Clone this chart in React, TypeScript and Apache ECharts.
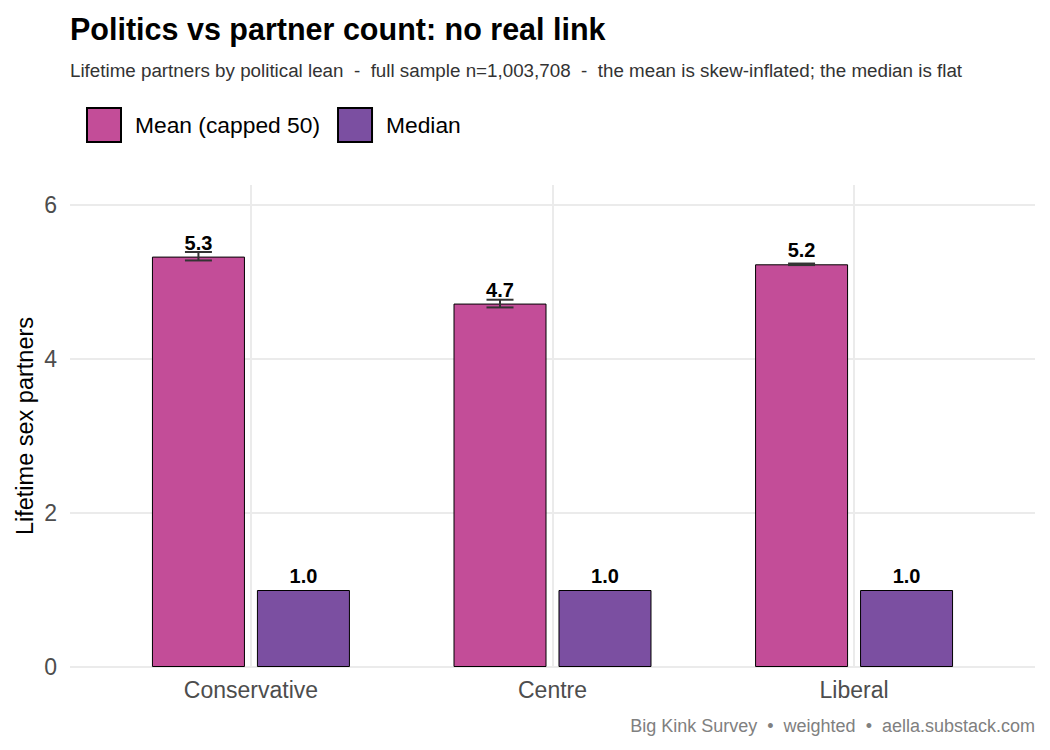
import React, { useEffect, useRef } from "react";
import * as echarts from "echarts";

// Political lean groups and lifetime partner summaries
const categories = ["Conservative", "Centre", "Liberal"];
const meanValues = [5.33, 4.72, 5.23];
const meanLow = [5.28, 4.67, 5.22];
const meanHigh = [5.39, 4.77, 5.24];
const medianValues = [1.0, 1.0, 1.0];
const yTicks = [0, 2, 4, 6];

const seriesNames = ["Mean (capped 50)", "Median"];
const titleText = "Politics vs partner count: no real link";
const subtitleText =
  "Lifetime partners by political lean  -  full sample n=1,003,708  -  the mean is skew-inflated; the median is flat";
const captionText = "Big Kink Survey  \u2022  weighted  \u2022  aella.substack.com";
const yAxisTitle = "Lifetime sex partners";

const FONT = "'Liberation Sans', Arial, Helvetica, sans-serif";
const MEAN_COLOR = "#C34D98";
const MEDIAN_COLOR = "#7B4FA1";
const GRID_COLOR = "#EBEBEB";

const BAR_W = 93;
const BAR_GAP = 12;

// Plot panel (outer, with ggplot-like 0.6 discrete expansion)
const PANEL_LEFT = 70;
const PANEL_RIGHT = 1035;
const PANEL_TOP = 185;
const PANEL_BOTTOM = 667;
const Y_MAX = 6.26;

export default function App() {
  const ref = useRef<HTMLDivElement | null>(null);

  useEffect(() => {
    document.body.style.margin = "0";
    if (!ref.current) return;
    const chart = echarts.init(ref.current, undefined, { renderer: "svg" });

    const panelW = PANEL_RIGHT - PANEL_LEFT;
    const unit = panelW / (categories.length - 1 + 1.2);
    const innerLeft = PANEL_LEFT + 0.1 * unit;
    const innerWidth = categories.length * unit;
    const interval = yTicks[1] - yTicks[0];
    const meanOffset = -(BAR_W + BAR_GAP) / 2;

    const errData = categories.map((_, i) => [i, meanLow[i], meanHigh[i]]);

    const valueLabel = {
      show: true,
      position: "top" as const,
      distance: 4,
      formatter: (p: any) => Number(p.value).toFixed(1),
      fontSize: 20,
      fontWeight: "bold" as const,
      color: "#000",
      fontFamily: FONT,
    };

    const option: any = {
      animation: false,
      backgroundColor: "#fff",
      textStyle: { fontFamily: FONT },
      title: [
        {
          text: titleText,
          left: 65,
          top: 8,
          textStyle: { fontSize: 30.5, fontWeight: "bold", color: "#000", fontFamily: FONT },
        },
        {
          text: subtitleText,
          left: 65,
          top: 56,
          textStyle: { fontSize: 18.8, fontWeight: "normal", color: "#333", fontFamily: FONT },
        },
        {
          text: captionText,
          right: 10,
          top: 712,
          textStyle: { fontSize: 18, fontWeight: "normal", color: "#808080", fontFamily: FONT },
        },
      ],
      legend: {
        data: seriesNames,
        left: 81,
        top: 102,
        itemWidth: 34,
        itemHeight: 34,
        itemGap: 17,
        icon: "rect",
        textStyle: { fontSize: 22.8, color: "#000", fontFamily: FONT, padding: [0, 0, 0, 9] },
        selectedMode: false,
      },
      grid: [
        {
          left: PANEL_LEFT,
          width: panelW,
          top: PANEL_TOP,
          height: PANEL_BOTTOM - PANEL_TOP,
          outerBoundsMode: "none",
        },
        {
          left: innerLeft,
          width: innerWidth,
          top: PANEL_TOP,
          height: PANEL_BOTTOM - PANEL_TOP,
          outerBoundsMode: "none",
        },
      ],
      xAxis: [
        { gridIndex: 0, type: "value", min: 0, max: 1, show: false },
        {
          gridIndex: 1,
          type: "category",
          data: categories,
          axisLine: { show: false },
          axisTick: { show: false },
          splitLine: { show: false },
          axisLabel: { fontSize: 23, color: "#4D4D4D", margin: 11, fontFamily: FONT },
        },
      ],
      yAxis: [
        {
          gridIndex: 0,
          type: "value",
          min: 0,
          max: Y_MAX,
          interval,
          name: yAxisTitle,
          nameLocation: "middle",
          nameGap: 33,
          nameMoveOverlap: false,
          nameTextStyle: { fontSize: 23.5, color: "#000", fontFamily: FONT },
          axisLine: { show: false },
          axisTick: { show: false },
          axisLabel: { fontSize: 23, color: "#4D4D4D", margin: 13, showMaxLabel: false, fontFamily: FONT },
          splitLine: { show: true, showMaxLine: false, lineStyle: { color: GRID_COLOR, width: 2 } },
        },
        { gridIndex: 1, type: "value", min: 0, max: Y_MAX, interval, show: false, splitLine: { show: false } },
      ],
      series: [
        {
          // vertical major gridlines at each category centre
          name: "gridlines",
          type: "line",
          xAxisIndex: 1,
          yAxisIndex: 1,
          data: [],
          silent: true,
          z: 1,
          markLine: {
            silent: true,
            z: 1,
            symbol: ["none", "none"],
            label: { show: false },
            lineStyle: { color: GRID_COLOR, width: 2, type: "solid" },
            emphasis: { disabled: true },
            data: categories.map((c) => ({ xAxis: c })),
          },
        },
        {
          name: seriesNames[0],
          type: "bar",
          xAxisIndex: 1,
          yAxisIndex: 1,
          data: meanValues,
          barWidth: BAR_W,
          barGap: `${((BAR_GAP / BAR_W) * 100).toFixed(1)}%`,
          itemStyle: { color: MEAN_COLOR, borderColor: "#000", borderWidth: 1 },
          label: valueLabel,
          z: 2,
        },
        {
          name: seriesNames[1],
          type: "bar",
          xAxisIndex: 1,
          yAxisIndex: 1,
          data: medianValues,
          barWidth: BAR_W,
          itemStyle: { color: MEDIAN_COLOR, borderColor: "#000", borderWidth: 1 },
          label: valueLabel,
          z: 2,
        },
        {
          name: "errors",
          type: "custom",
          xAxisIndex: 1,
          yAxisIndex: 1,
          data: errData,
          encode: { x: 0, y: [1, 2] },
          z: 3,
          silent: true,
          renderItem: (_params: any, api: any) => {
            const idx = api.value(0);
            const lo = api.coord([idx, api.value(1)]);
            const hi = api.coord([idx, api.value(2)]);
            const x = lo[0] + meanOffset;
            const half = 13.5;
            const style = { stroke: "#333333", lineWidth: 2 };
            return {
              type: "group",
              children: [
                { type: "line", shape: { x1: x, y1: lo[1], x2: x, y2: hi[1] }, style },
                { type: "line", shape: { x1: x - half, y1: lo[1], x2: x + half, y2: lo[1] }, style },
                { type: "line", shape: { x1: x - half, y1: hi[1], x2: x + half, y2: hi[1] }, style },
              ],
            };
          },
        },
      ],
    };

    chart.setOption(option);
    return () => chart.dispose();
  }, []);

  return <div ref={ref} style={{ width: 1050, height: 750 }} />;
}
